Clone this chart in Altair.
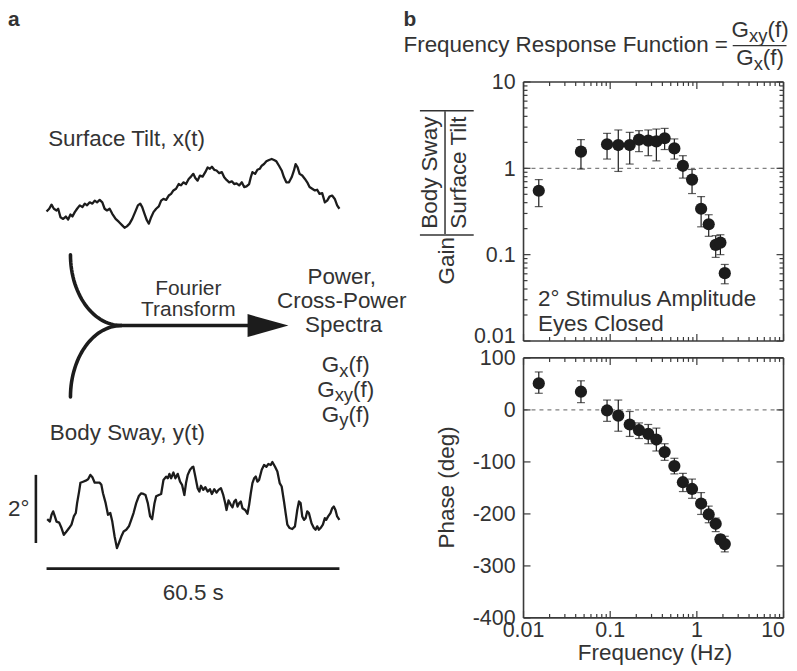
import math
import altair as alt
import pandas as pd

FONT = "Liberation Sans"
INK = "#1c1c1c"
TXT = "#333333"
FRAME = "#3a3a3a"
FS = 22.5      # running text
FL = 21.5      # tick labels

# ---------------- panel b data ----------------
freq_hz = [0.015, 0.046, 0.092, 0.124, 0.168, 0.215, 0.275, 0.341, 0.425,
           0.55, 0.69, 0.88, 1.12, 1.37, 1.65, 1.87, 2.1]
gain = [0.55, 1.56, 1.90, 1.86, 1.86, 2.15, 2.09, 2.05, 2.23,
        1.70, 1.07, 0.74, 0.34, 0.225, 0.13, 0.138, 0.061]
gain_lo = [0.36, 0.98, 1.28, 0.92, 1.12, 1.56, 1.40, 1.22, 1.65,
           1.28, 0.77, 0.51, 0.21, 0.163, 0.093, 0.10, 0.046]
gain_hi = [0.74, 2.15, 2.54, 2.78, 2.61, 2.73, 2.78, 2.85, 2.90,
           2.19, 1.40, 0.97, 0.47, 0.29, 0.166, 0.17, 0.077]
phase_deg = [51, 35, -1, -11, -28, -39, -46, -57, -81,
             -108, -139, -152, -180, -201, -219, -249, -258]
phase_lo = [32, 14, -22, -41, -51, -55, -65, -79, -97,
            -123, -157, -170, -201, -217, -234, -258, -273]
phase_hi = [73, 56, 19, 19, -3, -25, -28, -35, -65,
            -93, -122, -133, -159, -185, -208, -240, -243]

freq_major = [0.01, 0.1, 1, 10]
freq_labels = ["0.01", "0.1", "1", "10"]
freq_minor = [round(m * d, 4) for d in (0.01, 0.1, 1) for m in range(2, 10)]
gain_major = [0.01, 0.1, 1, 10]
gain_labels = ["0.01", "0.1", "1", "10"]
gain_minor = freq_minor
phase_major = [-400, -300, -200, -100, 0, 100]
phase_labels = ["-400", "-300", "-200", "-100", "0", "100"]

# ---------------- panel a traces ----------------
tilt_t = [0.0, 0.55, 1.03, 1.51, 2.06, 2.40, 2.88, 3.43, 3.98, 4.46,
          4.94, 5.35, 5.83, 6.31, 6.86, 7.41, 7.89, 8.37, 8.92, 9.47,
          9.95, 10.43, 10.98, 11.52, 12.0, 12.49, 13.03, 13.58, 14.27, 14.95,
          15.64, 16.12, 16.6, 17.15, 17.7, 18.38, 18.87, 19.35, 19.76, 20.24,
          20.72, 21.13, 21.61, 22.09, 22.64, 23.19, 23.67, 24.15, 24.7, 25.24,
          25.73, 26.2, 26.75, 27.3, 27.78, 28.26, 28.81, 29.36, 29.84, 30.32,
          30.73, 31.21, 31.69, 32.24, 32.79, 33.27, 33.75, 34.16, 34.64, 35.12,
          35.67, 36.22, 36.7, 37.18, 37.73, 38.28, 38.76, 39.24, 39.79, 40.34,
          40.82, 41.3, 41.85, 42.19, 42.53, 43.08, 43.56, 44.04, 44.45, 44.93,
          45.41, 45.96, 46.51, 46.99, 47.47, 48.02, 48.57, 49.05, 49.53, 50.08,
          50.63, 51.11, 51.45, 51.86, 52.27, 52.82, 53.37, 53.85, 54.33, 54.88,
          55.43, 55.91, 56.39, 56.94, 57.49, 57.97, 58.45, 58.99, 59.54, 60.03,
          60.5]
tilt_deg = [-0.52, -0.44, -0.32, -0.44, -0.49, -0.44, -0.69, -0.74, -0.67, -0.76,
            -0.61, -0.67, -0.54, -0.44, -0.34, -0.39, -0.29, -0.34, -0.25, -0.29,
            -0.20, -0.25, -0.18, -0.25, -0.44, -0.49, -0.44, -0.59, -0.74, -0.83,
            -0.93, -1.00, -0.96, -0.88, -0.74, -0.51, -0.34, -0.29, -0.39, -0.59,
            -0.78, -0.88, -0.69, -0.54, -0.44, -0.37, -0.20, -0.15, -0.18, -0.05,
            0.00, 0.10, 0.15, 0.29, 0.25, 0.34, 0.29, 0.44, 0.51, 0.59,
            0.47, 0.39, 0.54, 0.51, 0.64, 0.78, 0.74, 0.80, 0.71, 0.69,
            0.61, 0.64, 0.49, 0.41, 0.34, 0.37, 0.29, 0.31, 0.25, 0.34,
            0.20, 0.22, 0.29, 0.49, 0.64, 0.59, 0.71, 0.74, 0.83, 0.88,
            0.96, 1.00, 1.03, 1.00, 0.96, 0.83, 0.69, 0.49, 0.34, 0.34,
            0.49, 0.69, 0.88, 0.78, 0.59, 0.54, 0.44, 0.34, 0.20, 0.15,
            0.10, 0.12, 0.00, 0.02, -0.25, -0.20, -0.08, -0.05, -0.15, -0.34,
            -0.44]
sway_t = [0.14, 0.69, 1.03, 1.37, 1.72, 2.06, 2.61, 3.09, 3.57, 4.12,
          4.66, 5.15, 5.63, 6.04, 6.31, 6.72, 7.0, 7.55, 8.09, 8.58,
          9.06, 9.47, 9.95, 10.43, 10.98, 11.32, 11.66, 12.21, 12.69, 13.17,
          13.58, 14.06, 14.54, 14.95, 15.44, 15.92, 16.46, 17.01, 17.49, 17.97,
          18.52, 19.07, 19.55, 20.03, 20.44, 20.92, 21.4, 21.81, 22.3, 22.64,
          23.19, 23.67, 24.15, 24.7, 25.04, 25.38, 25.73, 26.21, 26.62, 27.1,
          27.58, 27.99, 28.47, 28.81, 29.16, 29.64, 30.05, 30.32, 30.73, 31.21,
          31.56, 31.9, 32.38, 32.79, 33.27, 33.75, 34.16, 34.64, 35.12, 35.53,
          36.02, 36.5, 36.91, 37.18, 37.59, 38.07, 38.42, 38.76, 39.1, 39.45,
          39.79, 40.13, 40.47, 41.02, 41.5, 41.85, 42.19, 42.53, 42.88, 43.22,
          43.56, 43.9, 44.45, 44.93, 45.41, 45.83, 46.31, 46.65, 47.2, 47.68,
          48.16, 48.57, 49.05, 49.39, 49.74, 50.22, 50.76, 51.31, 51.79, 52.14,
          52.48, 52.82, 53.17, 53.51, 53.85, 54.19, 54.74, 55.22, 55.57, 55.91,
          56.25, 56.6, 57.08, 57.49, 57.76, 58.17, 58.65, 59.0, 59.34, 59.68,
          60.03, 60.5]
sway_deg = [-0.47, -0.54, -0.34, -0.24, -0.39, -0.54, -0.57, -0.73, -0.93, -0.83,
            -0.73, -0.63, -0.39, -0.29, 0.00, 0.34, 0.60, 0.63, 0.66, 0.70,
            0.83, 0.76, 0.60, 0.60, 0.60, 0.54, 0.29, 0.00, -0.34, -0.29,
            -0.54, -0.98, -1.32, -1.17, -0.98, -0.83, -0.78, -0.68, -0.49, -0.29,
            0.00, 0.21, 0.29, 0.27, 0.24, 0.00, -0.39, -0.47, 0.00, 0.20,
            0.24, 0.27, 0.68, 0.78, 0.73, 0.86, 0.73, 0.90, 0.73, 0.86,
            0.63, 0.54, 0.24, 0.59, 0.83, 0.98, 1.05, 1.07, 0.78, 0.44,
            0.34, 0.51, 0.39, 0.47, 0.34, 0.41, 0.27, 0.41, 0.31, 0.39,
            0.44, 0.24, 0.00, -0.20, 0.08, -0.05, -0.12, 0.05, 0.10, -0.10,
            0.00, 0.05, -0.15, -0.20, -0.31, -0.05, 0.29, 0.59, 0.73, 0.78,
            0.63, 0.68, 0.98, 1.12, 1.07, 1.15, 1.12, 1.21, 1.07, 0.93,
            0.59, 0.49, 0.05, -0.29, -0.63, -0.73, -0.76, -0.68, -0.20, 0.05,
            0.00, -0.39, -0.49, -0.44, -0.24, -0.29, -0.59, -0.73, -0.78, -0.68,
            -0.78, -0.73, -0.63, -0.44, -0.49, -0.39, -0.29, -0.15, -0.10, -0.20,
            -0.39, -0.49]
scale_bar_deg = [0.83, -1.17]      # 2 degree calibration bar
time_bar_s = [0.0, 60.5]           # 60.5 s record length

# ---------------- layout ----------------
W, HG, HP, HH = 261, 260, 261, 55.5
WA = 500
ROW_GAP, COL_GAP = 17, 17.5
Y2 = HH + ROW_GAP                 # top of row 2 (gain)
Y3 = Y2 + HG + ROW_GAP            # top of row 3 (phase)
one = pd.DataFrame({"k": [0]})


def text(s, x, y, size=FS, align="left", angle=0, weight="normal", baseline="alphabetic"):
    kw = dict(font=FONT, fontSize=size, align=align, baseline=baseline,
              fontWeight=weight, color=TXT)
    if angle:
        kw["angle"] = angle
    return alt.Chart(pd.DataFrame({"s": [s]})).mark_text(**kw).encode(
        x=alt.value(x), y=alt.value(y), text="s:N")


def g_of(sub, cx, y, size=FS, subsize=18.5):
    wg = 0.778 * size
    ws = 0.5 * len(sub) * subsize
    wf = 0.944 * size
    x0 = cx - (wg + ws + wf) / 2
    return [text("G", x0, y, size), text(sub, x0 + wg, y + 4.5, subsize),
            text("(f)", x0 + wg + ws, y, size)]


def hline(x1, x2, y, width=1.5, color=TXT):
    return alt.Chart(one).mark_rule(color=color, strokeWidth=width).encode(
        x=alt.value(x1), x2=alt.value(x2), y=alt.value(y))


def vline(x, y1, y2, width=1.5, color=TXT):
    return alt.Chart(one).mark_rule(color=color, strokeWidth=width).encode(
        x=alt.value(x), y=alt.value(y1), y2=alt.value(y2))


def frame(H):
    return [hline(0, W, 0, 1.6, FRAME), hline(0, W, H, 1.6, FRAME),
            vline(0, 0, H, 1.6, FRAME), vline(W, 0, H, 1.6, FRAME)]


def ticks(xscale, yscale, ymaj, ymin, H):
    out = []
    for vals, L in ((freq_major, 7), (freq_minor, 4)):
        r = alt.Chart(pd.DataFrame({"v": vals})).mark_rule(color=FRAME, strokeWidth=1.2)
        xe = alt.X("v:Q", scale=xscale, axis=None)
        out.append(r.encode(x=xe, y=alt.value(H), y2=alt.value(H - L)))
        out.append(r.encode(x=xe, y=alt.value(0), y2=alt.value(L)))
    for vals, L in ((ymaj, 7), (ymin, 4)):
        if not vals:
            continue
        r = alt.Chart(pd.DataFrame({"v": vals})).mark_rule(color=FRAME, strokeWidth=1.2)
        ye = alt.Y("v:Q", scale=yscale, axis=None)
        out.append(r.encode(y=ye, x=alt.value(0), x2=alt.value(L)))
        out.append(r.encode(y=ye, x=alt.value(W), x2=alt.value(W - L)))
    return out


def ylabels(vals, strs, yscale, dy):
    return alt.Chart(pd.DataFrame({"v": vals, "s": strs})).mark_text(
        font=FONT, fontSize=FL, color=TXT, align="right", baseline="middle", dy=dy).encode(
        x=alt.value(-8), y=alt.Y("v:Q", scale=yscale, axis=None), text="s:N")


def xlabels(vals, strs, H, align, dx):
    return alt.Chart(pd.DataFrame({"v": vals, "s": strs})).mark_text(
        font=FONT, fontSize=FL, color=TXT, align=align, baseline="top", dx=dx).encode(
        x=alt.X("v:Q", scale=xs, axis=None), y=alt.value(H + 2.5), text="s:N")


def dashed(val, yscale):
    return alt.Chart(pd.DataFrame({"v": [val]})).mark_rule(
        color="#808080", strokeWidth=1.3, strokeDash=[4, 4]).encode(
        y=alt.Y("v:Q", scale=yscale, axis=None), x=alt.value(0), x2=alt.value(W))


df = pd.DataFrame({"f": freq_hz, "g": gain, "glo": gain_lo, "ghi": gain_hi,
                   "p": phase_deg, "plo": phase_lo, "phi": phase_hi})

xs = alt.Scale(type="log", domain=[0.01, 10], nice=False)
gs = alt.Scale(type="log", domain=[0.01, 10], nice=False)
ps = alt.Scale(domain=[-400, 100], nice=False, zero=False)


def data_layers(ycol, lo, hi, yscale):
    xe = alt.X("f:Q", scale=xs, axis=None)
    err = alt.Chart(df).mark_rule(color=INK, strokeWidth=1.2).encode(
        x=xe, y=alt.Y(f"{lo}:Q", scale=yscale, axis=None), y2=f"{hi}:Q")
    cap1 = alt.Chart(df).mark_tick(color=INK, orient="horizontal", size=8,
                                   thickness=1.2).encode(
        x=xe, y=alt.Y(f"{lo}:Q", scale=yscale, axis=None))
    cap2 = alt.Chart(df).mark_tick(color=INK, orient="horizontal", size=8,
                                   thickness=1.2).encode(
        x=xe, y=alt.Y(f"{hi}:Q", scale=yscale, axis=None))
    pts = alt.Chart(df).mark_circle(size=150, color=INK, opacity=1).encode(
        x=xe, y=alt.Y(f"{ycol}:Q", scale=yscale, axis=None))
    return [err, cap1, cap2, pts]


# ---- gain panel
gain_chart = alt.layer(
    dashed(1, gs),
    *data_layers("g", "glo", "ghi", gs),
    ylabels(gain_major[1:], gain_labels[1:], gs, 1.5),
    ylabels(gain_major[:1], gain_labels[:1], gs, -4),
    *ticks(xs, gs, gain_major, gain_minor, HG),
    *frame(HG),
    text("Gain", -69.5, 179.5, angle=270, align="center"),
    text("Body Sway", -86.5, 91, angle=270, align="center"),
    text("Surface Tilt", -57.5, 91, angle=270, align="center"),
    vline(-78.8, 29.5, 152.5),
    hline(-104, -50, 28.8),
    hline(-104, -50, 153.5),
    text("2° Stimulus Amplitude", 14.5, 224.5),
    text("Eyes Closed", 14.5, 249.5),
).properties(width=W, height=HG)

# ---- phase panel
phase_chart = alt.layer(
    dashed(0, ps),
    *data_layers("p", "plo", "phi", ps),
    ylabels(phase_major, phase_labels, ps, 1.5),
    xlabels(freq_major[:3], freq_labels[:3], HP, "center", 0),
    xlabels(freq_major[3:], freq_labels[3:], HP, "right", 1.5),
    *ticks(xs, ps, phase_major, [], HP),
    *frame(HP),
    text("Phase (deg)", -69.5, 130, angle=270, align="center"),
    text("Frequency (Hz)", 132, 303.5, align="center"),
).properties(width=W, height=HP)

# ---- header of panel b (invisible anchor point keeps the layer scaled)
anchor = alt.Chart(one).mark_point(opacity=0).encode(
    x=alt.X("k:Q", axis=None), y=alt.Y("k:Q", axis=None))
header = alt.layer(
    anchor,
    text("b", -120.5, 0, size=21, weight="bold", baseline="top"),
    text("Frequency Response Function =", -120.5, 43),
    hline(210, 264, 36.5, width=1.4),
    *g_of("xy", 237.5, 28),
    *g_of("x", 237.5, 56),
).properties(width=W, height=HH)

# ---------------- panel a, cut into three strips aligned with the rows --------------
tscale = alt.Scale(domain=[0, 60.5], range=[38.7, 332.7], nice=False, zero=False)

# row 1 strip: label a + surface tilt trace
tilt_line = alt.Chart(pd.DataFrame({"t": tilt_t, "d": tilt_deg})).mark_line(
    color=INK, strokeWidth=2.3, strokeJoin="round").encode(
    x=alt.X("t:Q", scale=tscale, axis=None),
    y=alt.Y("d:Q", scale=alt.Scale(domain=[-1, 1], range=[219.3, 151.3],
                                    nice=False, zero=False), axis=None))
strip1 = alt.layer(
    tilt_line,
    text("a", 0, 0, size=21, weight="bold", baseline="top"),
    text("Surface Tilt, x(t)", 40.3, 137),
).properties(width=WA, height=HH)

# row 2 strip: Fourier-transform schematic (pixel layout units)
rows = []
for i in range(31):
    th = math.pi / 2 * i / 30
    rows.append(("up", i, 113.7 - 51 * math.cos(th), 246 - Y2 + 71 * math.sin(th)))
    rows.append(("lo", i, 113.7 - 51 * math.cos(th), 388.7 - Y2 - 71.7 * math.sin(th)))
rows += [("h", 0, 113.7, 317 - Y2), ("h", 1, 242, 317 - Y2)]
sch = pd.DataFrame(rows, columns=["seg", "o", "x", "y"])
lx = alt.Scale(domain=[0, WA], range=[0, WA], nice=False, zero=False)
ly = alt.Scale(domain=[0, HG], range=[0, HG], nice=False, zero=False)
curves = alt.Chart(sch).mark_line(color=INK, strokeWidth=3.6, strokeCap="round").encode(
    x=alt.X("x:Q", scale=lx, axis=None), y=alt.Y("y:Q", scale=ly, axis=None),
    detail="seg:N", order="o:Q")
head = alt.Chart(pd.DataFrame({"x": [240.5, 281.5],
                               "y1": [305.5 - Y2, 317 - Y2], "y2": [328.5 - Y2, 317 - Y2]})
                 ).mark_area(color=INK).encode(
    x=alt.X("x:Q", scale=lx, axis=None), y=alt.Y("y1:Q", scale=ly, axis=None), y2="y2:Q")
strip2 = alt.layer(
    curves, head,
    text("Fourier", 181, 286 - Y2, size=21, align="center"),
    text("Transform", 181, 307 - Y2, size=21, align="center"),
    text("Power,", 335, 275 - Y2, align="center"),
    text("Cross-Power", 335, 299 - Y2, align="center"),
    text("Spectra", 337, 323 - Y2, align="center"),
    *g_of("x", 339, 363.7 - Y2),
    *g_of("xy", 339, 388.7 - Y2),
    *g_of("y", 339, 413.7 - Y2),
    text("Body Sway, y(t)", 42, 432 - Y2),
).properties(width=WA, height=HG)

# row 3 strip: body sway trace with calibration bars
sway_scale = alt.Scale(domain=[-1, 1], range=[529.5 - Y3, 461.1 - Y3], nice=False, zero=False)
sway_line = alt.Chart(pd.DataFrame({"t": sway_t, "d": sway_deg})).mark_line(
    color=INK, strokeWidth=2.3, strokeJoin="round").encode(
    x=alt.X("t:Q", scale=tscale, axis=None),
    y=alt.Y("d:Q", scale=sway_scale, axis=None))
scalebar = alt.Chart(pd.DataFrame({"a": [scale_bar_deg[0]], "b": [scale_bar_deg[1]]})
                     ).mark_rule(color=INK, strokeWidth=2.6).encode(
    x=alt.value(28), y=alt.Y("a:Q", scale=sway_scale, axis=None), y2="b:Q")
timebar = alt.Chart(pd.DataFrame({"a": [time_bar_s[0]], "b": [time_bar_s[1]]})
                    ).mark_rule(color=INK, strokeWidth=2.6).encode(
    x=alt.X("a:Q", scale=tscale, axis=None), x2="b:Q", y=alt.value(561 - Y3))
strip3 = alt.layer(
    sway_line, scalebar, timebar,
    text("2°", 0, 508 - Y3),
    text("60.5 s", 186, 593 - Y3, align="center"),
).properties(width=WA, height=HP)

chart = alt.concat(strip1, header, strip2, gain_chart, strip3, phase_chart,
                   columns=2, spacing={"row": ROW_GAP, "column": COL_GAP},
                   bounds="flush").properties(
    padding=0, background="white").configure_view(strokeWidth=0)

chart.save("out.html", embed_options={"renderer": "svg", "actions": False})
